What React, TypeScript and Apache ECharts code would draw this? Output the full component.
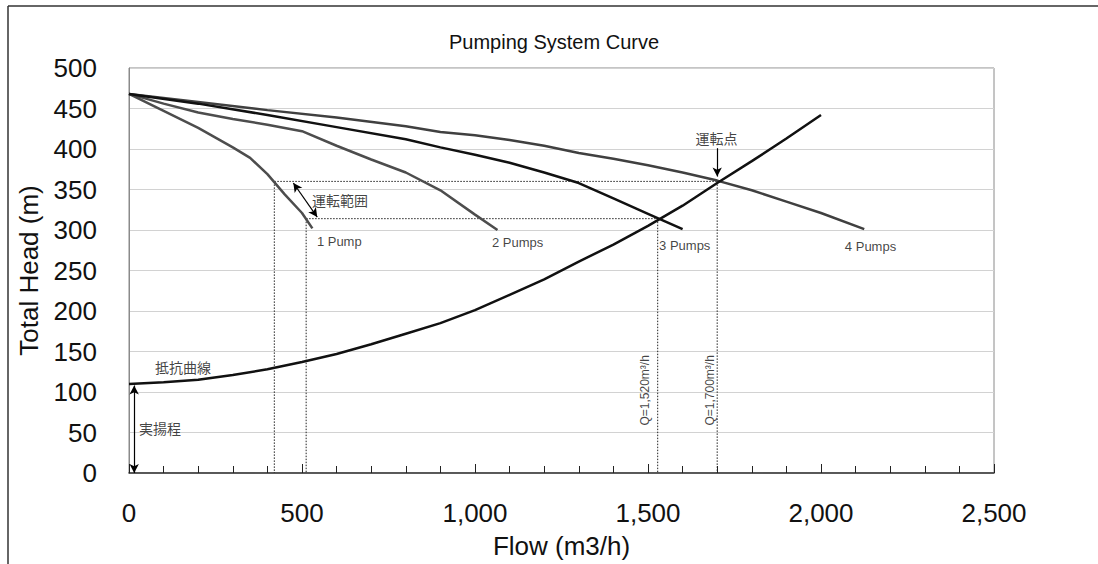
import React, { useEffect, useRef } from "react";
import * as echarts from "echarts";

// ---- data (flow m3/h, head m) ----
const pump1: number[][] = [[0, 468], [100, 447], [200, 426], [300, 402], [350, 389], [400, 369], [450, 344], [500, 321], [530, 302]];
const pump2: number[][] = [[0, 468], [100, 456], [200, 445], [300, 437], [400, 430], [500, 422], [600, 404], [700, 387], [800, 371], [900, 349], [1000, 319], [1065, 300]];
const pump3: number[][] = [[0, 468], [200, 456], [400, 442], [600, 427], [800, 412], [900, 402], [1000, 393], [1100, 383], [1200, 371], [1300, 358], [1400, 339], [1500, 320], [1600, 301]];
const pump4: number[][] = [[0, 468], [200, 458], [400, 448], [600, 439], [800, 428], [900, 421], [1000, 417], [1100, 411], [1200, 404], [1300, 395], [1400, 388], [1500, 380], [1600, 371], [1700, 361], [1800, 349], [1900, 335], [2000, 321], [2125, 301]];
const resistance: number[][] = [[0, 110], [100, 112], [200, 115], [300, 121], [400, 128], [500, 137], [600, 147], [700, 159], [800, 172], [900, 185], [1000, 201], [1100, 220], [1200, 239], [1300, 261], [1400, 282], [1500, 305], [1600, 330], [1700, 358], [1800, 385], [1900, 413], [2000, 442]];

// operating range (1 pump) and operating points
const rangeQ = [420, 512];
const operatingQ = [1700, 1528];
const operatingH = [360, 314];
const staticHead = 110;

const xTicks = [0, 500, 1000, 1500, 2000, 2500];
const yTicks = [0, 50, 100, 150, 200, 250, 300, 350, 400, 450, 500];

const pumpLabels = [
  { name: "1 Pump", x: 543, y: 286 },
  { name: "2 Pumps", x: 1049, y: 285 },
  { name: "3 Pumps", x: 1532, y: 281 },
  { name: "4 Pumps", x: 2069, y: 280 },
];
const jpLabels = [
  { name: "運転範囲", x: 529, y: 337, align: "left" },
  { name: "運転点", x: 1698, y: 413, align: "center" },
  { name: "抵抗曲線", x: 75, y: 131, align: "left" },
  { name: "実揚程", x: 29, y: 55, align: "left" },
];
const qLabels = [
  { name: "Q=1,520m³/h", x: 1491, y: 102 },
  { name: "Q=1,700m³/h", x: 1679, y: 102 },
];

const FONT = "'Liberation Sans', Arial, 'Noto Sans CJK JP', sans-serif";
const JPFONT = "'Noto Sans CJK JP', 'Liberation Sans', sans-serif";

export default function App() {
  const ref = useRef<HTMLDivElement>(null);
  useEffect(() => {
    if (!ref.current) return;
    const chart = echarts.init(ref.current, undefined, { renderer: "svg" });
    const curve = (name: string, data: number[][], color: string) => ({
      type: "line",
      name,
      data,
      showSymbol: false,
      symbol: "none",
      lineStyle: { color, width: 2.5 },
      z: 5,
    });
    const dotted = (data: number[][]) => ({
      type: "line",
      data,
      showSymbol: false,
      symbol: "none",
      lineStyle: { color: "#222", width: 1, type: [1.5, 1.5] },
      z: 3,
    });
    const arrowLine = { color: "#000", width: 1.2, type: "solid" };
    chart.setOption({
      animation: false,
      backgroundColor: "#fff",
      title: {
        text: "Pumping System Curve",
        left: 549,
        top: 27,
        textAlign: "center",
        textStyle: { fontFamily: FONT, fontSize: 20, fontWeight: "normal", color: "#111" },
      },
      grid: { left: 129, right: 104, top: 68, bottom: 91, show: true, borderColor: "#8a8a8a", borderWidth: 1 },
      xAxis: {
        type: "value",
        min: xTicks[0],
        max: xTicks[xTicks.length - 1],
        interval: 500,
        name: "Flow (m3/h)",
        nameLocation: "middle",
        nameGap: 60,
        nameTextStyle: { fontFamily: FONT, fontSize: 26, color: "#111" },
        axisLine: { lineStyle: { color: "#333", width: 1.5 } },
        axisTick: { show: true, inside: true, length: 9, lineStyle: { color: "#222", width: 1 } },
        minorTick: { show: true, splitNumber: 5, length: 7, lineStyle: { color: "#222", width: 1 } },
        splitLine: { show: false },
        axisLabel: {
          fontFamily: FONT,
          fontSize: 26,
          color: "#111",
          margin: 27,
          formatter: (v: number) => v.toLocaleString("en-US"),
        },
      },
      yAxis: {
        type: "value",
        min: yTicks[0],
        max: yTicks[yTicks.length - 1],
        interval: 50,
        name: "Total Head (m)",
        nameLocation: "middle",
        nameGap: 87,
        nameRotate: 90,
        nameTextStyle: { fontFamily: FONT, fontSize: 26, color: "#111" },
        axisLine: { show: true, lineStyle: { color: "#8a8a8a", width: 1 } },
        axisTick: { show: false },
        splitLine: { lineStyle: { color: "#d2d2d2", width: 1 } },
        axisLabel: { fontFamily: FONT, fontSize: 26, color: "#111", margin: 32 },
      },
      series: [
        dotted([[rangeQ[0], operatingH[0]], [operatingQ[0], operatingH[0]]]),
        dotted([[rangeQ[1], operatingH[1]], [operatingQ[1], operatingH[1]]]),
        dotted([[rangeQ[0], operatingH[0]], [rangeQ[0], 0]]),
        dotted([[rangeQ[1], operatingH[1]], [rangeQ[1], 0]]),
        dotted([[operatingQ[0], operatingH[0]], [operatingQ[0], 0]]),
        dotted([[operatingQ[1], operatingH[1]], [operatingQ[1], 0]]),
        curve("1 Pump", pump1, "#4d4d4d"),
        curve("2 Pumps", pump2, "#4d4d4d"),
        curve("4 Pumps", pump4, "#404040"),
        curve("3 Pumps", pump3, "#111"),
        curve("Resistance", resistance, "#111"),
        {
          type: "scatter",
          data: [],
          silent: true,
          markLine: {
            silent: true,
            animation: false,
            label: { show: false },
            lineStyle: arrowLine,
            symbolSize: [7, 9],
            data: [
              [
                { coord: [rangeQ[0] + 55, operatingH[0] - 2], symbol: "arrow" },
                { coord: [rangeQ[1] + 32, operatingH[1] + 2], symbol: "arrow" },
              ],
              [
                { coord: [operatingQ[0], 401], symbol: "none" },
                { coord: [operatingQ[0], operatingH[0] + 6], symbol: "arrow" },
              ],
              [
                { coord: [15, staticHead - 2], symbol: "arrow" },
                { coord: [15, 0], symbol: "arrow" },
              ],
            ],
          },
        },
        {
          type: "scatter",
          symbolSize: 0,
          silent: true,
          z: 10,
          data: pumpLabels.map((p) => ({ name: p.name, value: [p.x, p.y] })),
          label: {
            show: true,
            position: "inside",
            align: "left",
            verticalAlign: "middle",
            formatter: (p: any) => p.name,
            fontFamily: FONT,
            fontSize: 13,
            color: "#111",
          },
        },
        {
          type: "scatter",
          symbolSize: 0,
          silent: true,
          z: 10,
          data: jpLabels.map((p) => ({ name: p.name, value: [p.x, p.y], label: { align: p.align } })),
          label: {
            show: true,
            position: "inside",
            verticalAlign: "middle",
            formatter: (p: any) => p.name,
            fontFamily: JPFONT,
            fontSize: 14,
            color: "#111",
          },
        },
        {
          type: "scatter",
          symbolSize: 0,
          silent: true,
          z: 10,
          data: qLabels.map((p) => ({ name: p.name, value: [p.x, p.y] })),
          label: {
            show: true,
            position: "inside",
            rotate: 90,
            align: "center",
            verticalAlign: "middle",
            formatter: (p: any) => p.name,
            fontFamily: FONT,
            fontSize: 12,
            color: "#111",
          },
        },
      ],
      graphic: [
        { type: "line", shape: { x1: 8, y1: 6, x2: 1098, y2: 6 }, style: { stroke: "#333", lineWidth: 1.5 } },
        { type: "line", shape: { x1: 8, y1: 6, x2: 8, y2: 564 }, style: { stroke: "#333", lineWidth: 1.5 } },
      ],
    });
    return () => chart.dispose();
  }, []);
  return (
    <div
      ref={ref}
      style={{ position: "fixed", left: 0, top: 0, width: 1098, height: 564, background: "#fff" }}
    />
  );
}
